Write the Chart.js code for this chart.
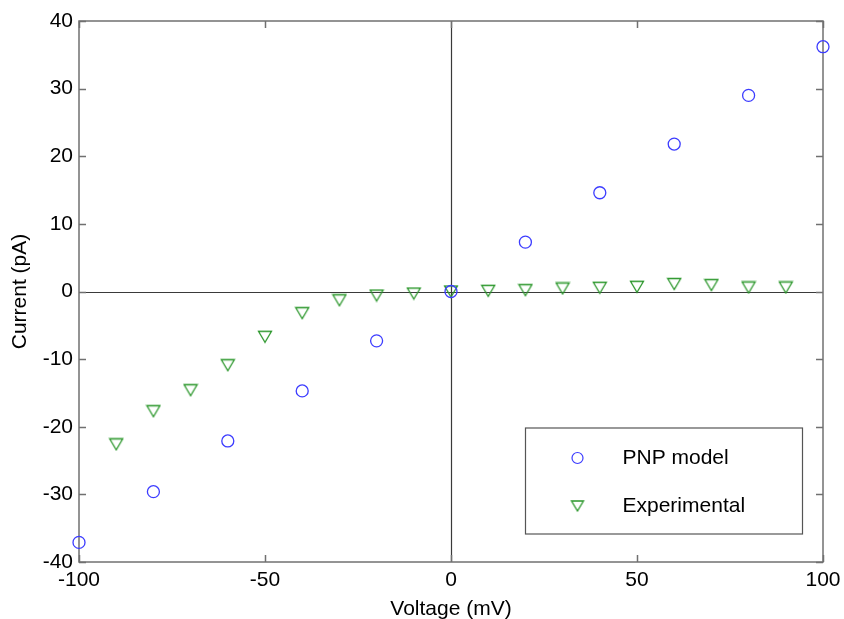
<!DOCTYPE html>
<html>
<head>
<meta charset="utf-8">
<script src="https://cdn.jsdelivr.net/npm/chart.js@4"></script>
<style>
  html, body { margin: 0; padding: 0; background: #fff; }
  #wrap { width: 844px; height: 619px; }
</style>
</head>
<body>
<div id="wrap"><canvas id="ivChart" width="844" height="619"></canvas></div>
<script>
// Voltage (mV) values
const modelVoltage = [-100, -80, -60, -40, -20, 0, 20, 40, 60, 80, 100];
const modelCurrent = [-37.1, -29.6, -22.1, -14.7, -7.3, 0, 7.3, 14.6, 21.8, 29.0, 36.2];

const expVoltage = [-90, -80, -70, -60, -50, -40, -30, -20, -10, 0, 10, 20, 30, 40, 50, 60, 70, 80, 90];
const expCurrent = [-22.6, -17.7, -14.6, -10.9, -6.7, -3.2, -1.3, -0.6, -0.3, 0, 0.1, 0.2, 0.45, 0.55, 0.7, 1.1, 0.95, 0.6, 0.6];

const xTicks = [-100, -50, 0, 50, 100];
const yTicks = [-40, -30, -20, -10, 0, 10, 20, 30, 40];

const seriesNames = ['PNP model', 'Experimental'];

const BLUE = '#3c3cff';
const GREEN = '#2a962a';
const FONT = 'Liberation Sans, Arial, Helvetica, sans-serif';

// Down-pointing triangle marker, centred on its bounding box (like MATLAB 'v')
function makeTriangle(w, h, color) {
    const c = document.createElement('canvas');
    c.width = 16;
    c.height = 14;
    const ctx = c.getContext('2d');
    const cx = c.width / 2, cy = c.height / 2;
    ctx.strokeStyle = color;
    ctx.lineWidth = 1.3;
    ctx.beginPath();
    ctx.moveTo(cx - w / 2, cy - h / 2);
    ctx.lineTo(cx + w / 2, cy - h / 2);
    ctx.lineTo(cx, cy + h / 2);
    ctx.closePath();
    ctx.stroke();
    return c;
}
const triMarker = makeTriangle(13, 11, GREEN);
const triLegend = makeTriangle(12, 10, GREEN);

const toPoints = (xs, ys) => xs.map((x, i) => ({ x: x, y: ys[i] }));

// Box, inward ticks and zero lines
const framePlugin = {
    id: 'frame',
    beforeDatasetsDraw(chart) {
        const { ctx, chartArea: a, scales } = chart;
        const tickLen = 7;
        ctx.save();
        // zero lines
        ctx.strokeStyle = '#3a3a3a';
        ctx.lineWidth = 1.2;
        const x0 = Math.round(scales.x.getPixelForValue(0)) + 0.5;
        const y0 = Math.round(scales.y.getPixelForValue(0)) + 0.5;
        ctx.beginPath();
        ctx.moveTo(x0, a.top);
        ctx.lineTo(x0, a.bottom);
        ctx.moveTo(a.left, y0);
        ctx.lineTo(a.right, y0);
        ctx.stroke();

        // frame
        ctx.strokeStyle = '#707070';
        ctx.lineWidth = 1.5;
        ctx.strokeRect(a.left, a.top, a.right - a.left, a.bottom - a.top);

        // ticks
        ctx.beginPath();
        xTicks.forEach(v => {
            const px = Math.round(scales.x.getPixelForValue(v)) + 0.5;
            ctx.moveTo(px, a.bottom);
            ctx.lineTo(px, a.bottom - tickLen);
            ctx.moveTo(px, a.top);
            ctx.lineTo(px, a.top + tickLen);
        });
        yTicks.forEach(v => {
            const py = Math.round(scales.y.getPixelForValue(v)) + 0.5;
            ctx.moveTo(a.left, py);
            ctx.lineTo(a.left + tickLen, py);
            ctx.moveTo(a.right, py);
            ctx.lineTo(a.right - tickLen, py);
        });
        ctx.stroke();
        ctx.restore();
    },
    afterDraw(chart) {
        // legend box in the lower right corner
        const { ctx, chartArea: a } = chart;
        const boxW = 277, boxH = 106;
        const left = a.right - 20.5 - boxW;
        const top = a.bottom - 28 - boxH;
        ctx.save();
        ctx.fillStyle = '#fff';
        ctx.fillRect(left, top, boxW, boxH);
        ctx.strokeStyle = '#555';
        ctx.lineWidth = 1.2;
        ctx.strokeRect(left, top, boxW, boxH);

        const mx = left + 52;
        const rows = [top + 30, top + 78];
        // circle
        ctx.strokeStyle = BLUE;
        ctx.lineWidth = 1.2;
        ctx.beginPath();
        ctx.arc(mx, rows[0], 5.5, 0, Math.PI * 2);
        ctx.stroke();
        // triangle
        ctx.drawImage(triLegend, mx - triLegend.width / 2, rows[1] - triLegend.height / 2);

        ctx.fillStyle = '#000';
        ctx.font = '21px ' + FONT;
        ctx.textBaseline = 'middle';
        ctx.textAlign = 'left';
        seriesNames.forEach((name, i) => {
            ctx.fillText(name, left + 97, rows[i]);
        });
        ctx.restore();
    }
};

new Chart(document.getElementById('ivChart').getContext('2d'), {
    type: 'scatter',
    data: {
        datasets: [{
            label: seriesNames[0],
            data: toPoints(modelVoltage, modelCurrent),
            pointStyle: 'circle',
            pointRadius: 6,
            pointBorderWidth: 1.3,
            pointBorderColor: BLUE,
            pointBackgroundColor: 'rgba(0,0,0,0)',
            clip: false
        }, {
            label: seriesNames[1],
            data: toPoints(expVoltage, expCurrent),
            pointStyle: triMarker,
            pointRadius: 7,
            clip: false
        }]
    },
    options: {
        responsive: false,
        animation: false,
        events: [],
        layout: {
            padding: { left: 0, right: 21, top: 21, bottom: 0 }
        },
        plugins: {
            legend: { display: false },
            tooltip: { enabled: false }
        },
        scales: {
            x: {
                type: 'linear',
                min: -100,
                max: 100,
                afterFit(scale) {
                    scale.height = 57;
                    scale.paddingLeft = 0;
                    scale.paddingRight = 0;
                },
                afterBuildTicks(scale) { scale.ticks = xTicks.map(v => ({ value: v })); },
                grid: { display: false, drawTicks: false },
                border: { display: false },
                ticks: {
                    padding: 6,
                    color: '#000',
                    maxRotation: 0,
                    font: { family: FONT, size: 21 }
                },
                title: {
                    display: true,
                    text: 'Voltage (mV)',
                    color: '#000',
                    padding: { top: 0, bottom: 0 },
                    font: { family: FONT, size: 21, lineHeight: 0.9 }
                }
            },
            y: {
                type: 'linear',
                min: -40,
                max: 40,
                afterFit(scale) {
                    scale.width = 79;
                    scale.paddingTop = 0;
                    scale.paddingBottom = 0;
                },
                afterBuildTicks(scale) { scale.ticks = yTicks.map(v => ({ value: v })); },
                grid: { display: false, drawTicks: false },
                border: { display: false },
                ticks: {
                    padding: 6,
                    color: '#000',
                    font: { family: FONT, size: 21 }
                },
                title: {
                    display: true,
                    text: 'Current (pA)',
                    color: '#000',
                    padding: { top: 8, bottom: 0 },
                    font: { family: FONT, size: 21 }
                }
            }
        }
    },
    plugins: [framePlugin]
});
</script>
</body>
</html>
